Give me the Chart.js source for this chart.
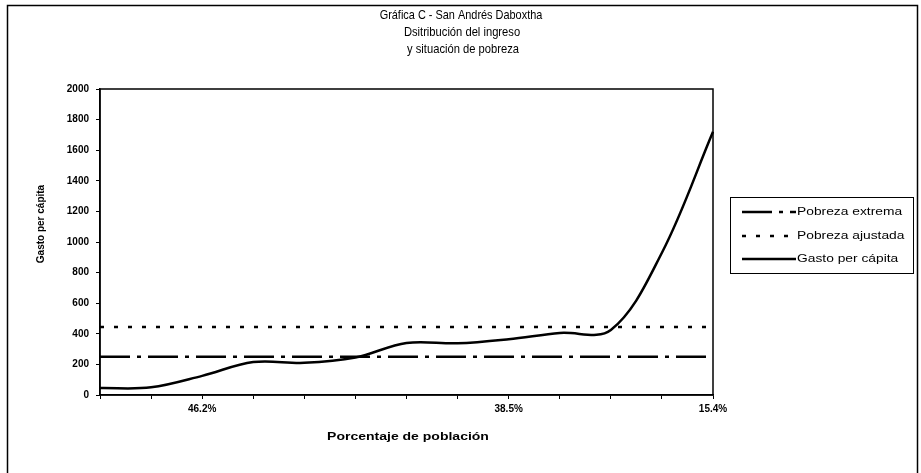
<!DOCTYPE html>
<html lang="es">
<head>
    <meta charset="UTF-8">
    <title>Gráfica C - San Andrés Daboxtha</title>
    <script src="https://cdn.jsdelivr.net/npm/chart.js"></script>
    <style>
        html, body {
            margin: 0;
            padding: 0;
            background: #fff;
        }
        #contenedor {
            width: 921px;
            height: 473px;
        }
    </style>
</head>
<body>
    <div id="contenedor">
        <canvas id="graficaC" width="921" height="473"></canvas>
    </div>
    <script>
// Datos
const etiquetas = ['', '', '46.2%', '', '', '', '', '', '38.5%', '', '', '', '15.4%'];
const gastoPerCapita = [45, 50, 125, 215, 210, 245, 340, 338, 365, 405, 425, 930, 1720];
const pobrezaExtrema = [250, 250, 250, 250, 250, 250, 250, 250, 250, 250, 250, 250, 250];
const pobrezaAjustada = [445, 445, 445, 445, 445, 445, 445, 445, 445, 445, 445, 445, 445];
const ejeY = { min: 0, max: 2000, paso: 200 };
const titulo = ['Gráfica C - San Andrés Daboxtha', 'Dsitribución del ingreso', 'y situación de pobreza'];
const tituloX = 'Porcentaje de población';
const tituloY = 'Gasto per cápita';

const FUENTE = 'Arial, "Liberation Sans", sans-serif';
const DASH_EXTREMA = [30, 7, 4, 7];
const DASH_AJUSTADA = [4, 10];

// escribe texto; escala opcional en horizontal (el escaneo deforma el ancho)
function texto(ctx, str, x, y, font, escala) {
    ctx.save();
    ctx.font = font;
    ctx.textAlign = 'center';
    ctx.textBaseline = 'middle';
    ctx.fillStyle = '#000';
    ctx.translate(x, y);
    if (escala) ctx.scale(escala, 1);
    ctx.fillText(str, 0, 0);
    ctx.restore();
}

const marcoPlugin = {
    id: 'marco',
    beforeDraw(chart) {
        const ctx = chart.ctx;
        ctx.save();
        ctx.fillStyle = '#fff';
        ctx.fillRect(0, 0, chart.width, chart.height);
        ctx.restore();
    },
    afterDraw(chart) {
        const ctx = chart.ctx;
        const a = chart.chartArea;
        ctx.save();
        // marco exterior
        ctx.strokeStyle = '#000';
        ctx.lineWidth = 1.5;
        ctx.strokeRect(7.5, 5.5, 910, 480);
        // borde del área de trazado
        ctx.strokeRect(a.left, a.top, a.right - a.left, a.bottom - a.top);
        ctx.restore();

        // títulos
        texto(ctx, titulo[0], 461, 15, '13px ' + FUENTE, 0.84);
        texto(ctx, titulo[1], 462, 32, '13px ' + FUENTE, 0.86);
        texto(ctx, titulo[2], 463, 49, '13px ' + FUENTE, 0.86);
        texto(ctx, tituloX, 408, 437, 'bold 10px ' + FUENTE, 1.4);
        ctx.save();
        ctx.translate(41, 224);
        ctx.rotate(-Math.PI / 2);
        texto(ctx, tituloY, 0, 0, 'bold 10px ' + FUENTE, 1);
        ctx.restore();

        // leyenda
        const lx = 730, ly = 197, lw = 183, lh = 76;
        ctx.save();
        ctx.strokeStyle = '#000';
        ctx.lineWidth = 1;
        ctx.strokeRect(lx + 0.5, ly + 0.5, lw, lh);
        ctx.restore();
        const filas = [212, 236, 259];
        chart.data.datasets.forEach((ds, i) => {
            const y = filas[i];
            ctx.save();
            ctx.strokeStyle = '#000';
            ctx.lineWidth = ds.borderWidth;
            ctx.setLineDash(ds.borderDash || []);
            ctx.beginPath();
            ctx.moveTo(742, y);
            ctx.lineTo(796, y);
            ctx.stroke();
            ctx.restore();
        });
        chart.data.datasets.forEach((ds, i) => {
            ctx.save();
            ctx.font = '10px ' + FUENTE;
            ctx.textBaseline = 'middle';
            ctx.fillStyle = '#000';
            ctx.translate(797, filas[i]);
            ctx.scale(1.38, 1);
            ctx.fillText(ds.label, 0, 0);
            ctx.restore();
        });
    }
};

const grafica = new Chart(document.getElementById('graficaC'), {
    type: 'line',
    data: {
        labels: etiquetas,
        datasets: [
            {
                label: 'Pobreza extrema',
                data: pobrezaExtrema,
                borderColor: '#000',
                borderWidth: 2.5,
                borderDash: DASH_EXTREMA,
                pointRadius: 0,
                tension: 0
            },
            {
                label: 'Pobreza ajustada',
                data: pobrezaAjustada,
                borderColor: '#000',
                borderWidth: 2.5,
                borderDash: DASH_AJUSTADA,
                pointRadius: 0,
                tension: 0
            },
            {
                label: 'Gasto per cápita',
                data: gastoPerCapita,
                borderColor: '#000',
                borderWidth: 2.5,
                pointRadius: 0,
                tension: 0.35
            }
        ]
    },
    options: {
        responsive: false,
        animation: false,
        layout: {
            padding: { left: 0, right: 208, top: 89, bottom: 0 }
        },
        plugins: {
            legend: { display: false },
            title: { display: false },
            tooltip: { enabled: false }
        },
        scales: {
            x: {
                offset: false,
                afterFit(scale) { scale.height = 78; },
                grid: {
                    drawOnChartArea: false,
                    tickLength: 4,
                    color: '#000'
                },
                border: { display: true, color: '#000', width: 1.5 },
                ticks: {
                    autoSkip: false,
                    maxRotation: 0,
                    padding: 4,
                    color: '#000',
                    font: { family: FUENTE, size: 10, weight: 'bold' }
                }
            },
            y: {
                min: ejeY.min,
                max: ejeY.max,
                afterFit(scale) { scale.width = 100; },
                grid: {
                    drawOnChartArea: false,
                    tickLength: 4,
                    color: '#000'
                },
                border: { display: true, color: '#000', width: 1.5 },
                ticks: {
                    stepSize: ejeY.paso,
                    padding: 7,
                    color: '#000',
                    callback: v => String(v),
                    font: { family: FUENTE, size: 10, weight: 'bold' }
                }
            }
        }
    },
    plugins: [marcoPlugin]
});
    </script>
</body>
</html>
